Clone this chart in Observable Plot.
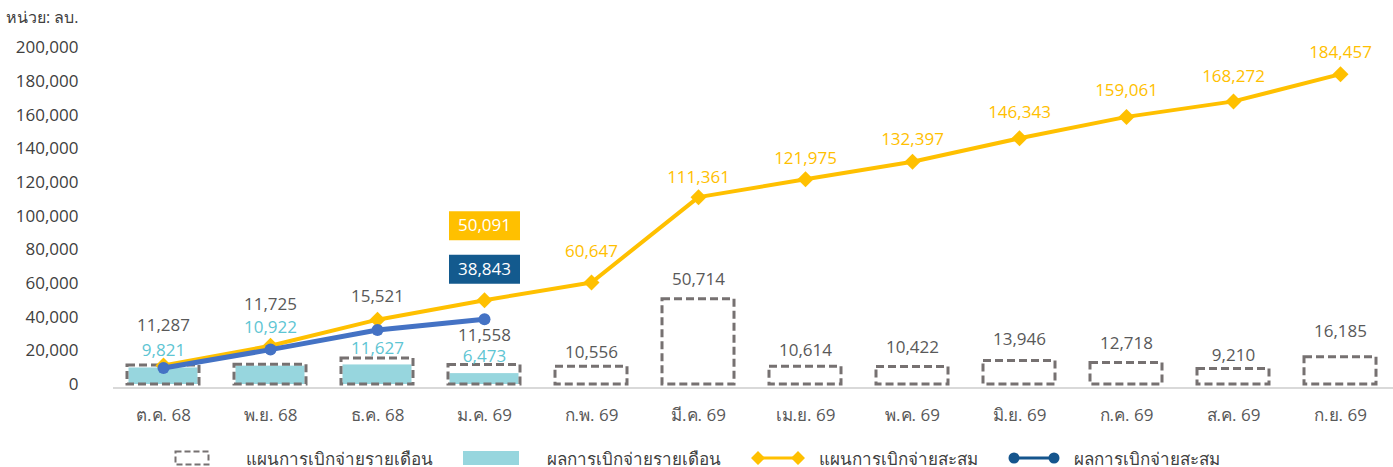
<!DOCTYPE html>
<html><head><meta charset="utf-8">
<script src="https://cdn.jsdelivr.net/npm/d3@7"></script>
<script src="https://cdn.jsdelivr.net/npm/@observablehq/plot@0.6"></script>
<style>
html,body{margin:0;padding:0;background:#fff;font-family:Tahoma,"Open Sans","Noto Sans",sans-serif;overflow:hidden;}
#title{position:absolute;left:6px;top:0;height:30px;line-height:34px;font-size:16px;color:#404040;}
#chart{position:absolute;left:0;top:30px;}
#chart svg{display:block;}
#legend{position:absolute;left:0;right:0;top:444px;height:28px;display:flex;justify-content:center;align-items:center;font-size:17px;color:#404040;}
#legend .item{display:flex;align-items:center;margin:0 15px;}
#legend svg{display:block;}
</style></head><body>
<div id="title">หน่วย: ลบ.</div>
<div id="chart"></div>
<div id="legend"></div>
<script>
const months = ["ต.ค. 68","พ.ย. 68","ธ.ค. 68","ม.ค. 69","ก.พ. 69","มี.ค. 69","เม.ย. 69","พ.ค. 69","มิ.ย. 69","ก.ค. 69","ส.ค. 69","ก.ย. 69"];
const planMonthly = [11287, 11725, 15521, 11558, 10556, 50714, 10614, 10422, 13946, 12718, 9210, 16185];
const actualMonthly = [9821, 10922, 11627, 6473];
const planCumulative = [11287, 23012, 38533, 50091, 60647, 111361, 121975, 132397, 146343, 159061, 168272, 184457];
const actualCumulative = [9821, 20743, 32370, 38843];
const seriesNames = ["แผนการเบิกจ่ายรายเดือน","ผลการเบิกจ่ายรายเดือน","แผนการเบิกจ่ายสะสม","ผลการเบิกจ่ายสะสม"];
const yTicks = [0, 20000, 40000, 60000, 80000, 100000, 120000, 140000, 160000, 180000, 200000];

// label placement (styling)
const planLabelDy = [-40, -60, -62, -30, -14, -20, -16, -19, -21, -20, -13, -26];
const actualLabelDy = [-17, -39, -16, -17];
const cumLabelDy = [0, 0, 0, 0, -31, -20, -21, -22, -26, -26, -25, -22];

const C = {plan:"#767171", actual:"#97D6DE", actualText:"#5EC5D3", cum:"#FFC000", act:"#4472C4", box:"#135A8E", text:"#595959"};
const fmt = d3.format(",");
const FONT = 'Tahoma,"Open Sans","Noto Sans",sans-serif';

const rows = a => a.map((v,i)=>({month:months[i], value:v, i}));
const planRows = rows(planMonthly), actualRows = rows(actualMonthly);
const planCumRows = rows(planCumulative), actualCumRows = rows(actualCumulative);

const boxSymbol = {draw(ctx){ ctx.rect(-35.5,-14.5,71,29); }};
const diamondSymbol = {draw(ctx){ const h=8; ctx.moveTo(0,-h); ctx.lineTo(h,0); ctx.lineTo(0,h); ctx.lineTo(-h,0); ctx.closePath(); }};

const marks = [
  Plot.axisY({ticks: yTicks, tickSize: 0, tickPadding: 27, tickFormat: fmt, fontSize: 17, fill: "#404040", label: null}),
  Plot.axisX({tickSize: 0, tickPadding: 24, fontSize: 17, fill: C.text, label: null}),
  Plot.ruleY([0], {stroke:"#D9D9D9", strokeWidth:2, dy:3.5, insetLeft:8}),
  Plot.barY(actualRows, {x:"month", y:"value", fill:C.actual, insetLeft:1.5, insetRight:1.5}),
  Plot.barY(planRows, {x:"month", y:"value", fill:"none", stroke:C.plan, strokeWidth:3, strokeDasharray:"8,4"}),
  Plot.line(planCumRows, {x:"month", y:"value", stroke:C.cum, strokeWidth:4}),
  Plot.dot(planCumRows, {x:"month", y:"value", symbol:diamondSymbol, r:5, fill:C.cum, stroke:"none"}),
  Plot.line(actualCumRows, {x:"month", y:"value", stroke:C.act, strokeWidth:5}),
  Plot.dot(actualCumRows, {x:"month", y:"value", r:6, fill:C.act}),
];
planRows.forEach((d,i)=>marks.push(Plot.text([d], {x:"month", y:"value", text:d=>fmt(d.value), dy:planLabelDy[i], fill:C.text, fontSize:17})));
actualRows.forEach((d,i)=>marks.push(Plot.text([d], {x:"month", y:"value", text:d=>fmt(d.value), dy:actualLabelDy[i], fill:C.actualText, fontSize:17})));
planCumRows.forEach((d,i)=>{ if(i>=4) marks.push(Plot.text([d], {x:"month", y:"value", text:d=>fmt(d.value), dy:cumLabelDy[i], fill:C.cum, fontSize:17})); });
// highlighted latest cumulative values
const lastPlan = planCumRows[actualCumulative.length-1];
const lastAct = actualCumRows[actualCumulative.length-1];
marks.push(Plot.dot([lastPlan], {x:"month", y:"value", symbol:boxSymbol, r:5, fill:C.cum, stroke:"none", dy:-74.5}));
marks.push(Plot.text([lastPlan], {x:"month", y:"value", text:d=>fmt(d.value), dy:-74.5, fill:"white", fontSize:17}));
marks.push(Plot.dot([lastAct], {x:"month", y:"value", symbol:boxSymbol, r:5, fill:C.box, stroke:"none", dy:-50}));
marks.push(Plot.text([lastAct], {x:"month", y:"value", text:d=>fmt(d.value), dy:-50, fill:"white", fontSize:17}));

const plot = Plot.plot({
  width: 1393, height: 407,
  marginLeft: 105, marginRight: -4, marginTop: 17.5, marginBottom: 53,
  style: {fontFamily: FONT, fontSize: "17px", background: "white", overflow: "visible"},
  x: {domain: months, paddingInner: 0.33, paddingOuter: 0.165, align: 0.5, label: null, axis: null},
  y: {domain: [0, 200000], label: null, axis: null},
  marks
});
document.getElementById("chart").appendChild(plot);

// legend
const sw = [
  `<svg width="36" height="16"><rect x="1.5" y="1.5" width="33" height="13" fill="none" stroke="${C.plan}" stroke-width="2" stroke-dasharray="6,3"/></svg>`,
  `<svg width="56" height="16"><rect x="0" y="1" width="56" height="14" fill="${C.actual}"/></svg>`,
  `<svg width="54" height="16"><line x1="7" y1="8" x2="47" y2="8" stroke="${C.cum}" stroke-width="3"/><path d="M0,8L7,1L14,8L7,15Z M40,8L47,1L54,8L47,15Z" fill="${C.cum}"/></svg>`,
  `<svg width="52" height="16"><line x1="6" y1="8" x2="46" y2="8" stroke="#15558D" stroke-width="3"/><circle cx="6" cy="8" r="5.5" fill="#15558D"/><circle cx="46" cy="8" r="5.5" fill="#15558D"/></svg>`
];
const gaps = [36, 28, 14, 14];
document.getElementById("legend").innerHTML = seriesNames.map((n,i)=>
  `<div class="item">${sw[i].replace('<svg', `<svg style="margin-right:${gaps[i]}px"`)}<span>${n}</span></div>`).join("");
</script>
</body></html>
